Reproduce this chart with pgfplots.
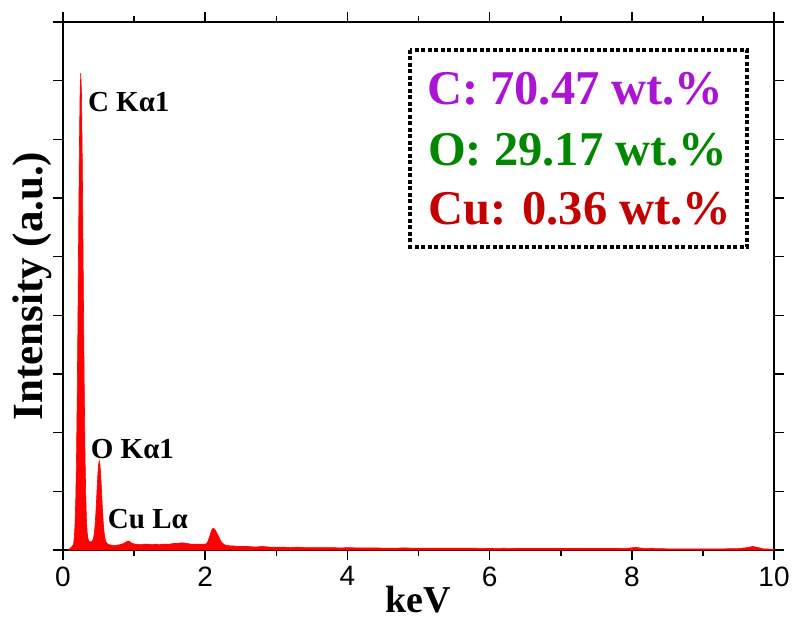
\documentclass[border=0pt]{standalone}
\usepackage{fontspec}
\setmainfont{Liberation Serif}
\newfontfamily\arial{Liberation Sans}
\usepackage{pgfplots}
\pgfplotsset{compat=1.18}
\definecolor{cpurple}{RGB}{170,20,210}
\definecolor{ogreen}{RGB}{0,135,0}
\definecolor{cured}{RGB}{195,0,0}
\begin{document}
\begin{tikzpicture}
\begin{axis}[
  scale only axis,
  width=711pt, height=528pt,
  xmin=0, xmax=10, ymin=0, ymax=9,
  xtick={0,2,4,6,8,10},
  minor x tick num=1,
  ytick={0,1,2,3,4,5,6,7,8,9},
  yticklabels={},
  tick align=outside,
  xtick pos=both, ytick pos=both,
  major tick length=10pt,
  minor tick length=6pt,
  axis line style={line width=1.6pt},
  every tick/.style={line width=1.6pt, black},
  /pgf/number format/assume math mode=true,
  xticklabel style={font=\arial\fontsize{28}{32}\selectfont, yshift=-3pt},
  xlabel={\textbf{keV}},
  ylabel={\textbf{Intensity (a.u.)}},
  xlabel style={font=\fontsize{38}{44}\selectfont, at={(axis description cs:0.5,-0.119)}, anchor=base},
  ylabel style={font=\fontsize{43}{50}\selectfont, at={(axis description cs:-0.0436,0.5)}, anchor=center},
  clip=false,
]
\addplot[draw=red, fill=red, line width=0.6pt] coordinates {
(0.08,0) (0.10,0.03) (0.12,0.05) (0.14,0.08) (0.15,0.11) (0.16,0.23) (0.17,0.46) (0.18,0.88)
(0.19,1.58) (0.20,2.60) (0.21,3.91) (0.22,5.39) (0.23,6.77) (0.24,7.77) (0.25,8.13) (0.26,7.77)
(0.27,6.77) (0.28,5.39) (0.29,3.91) (0.30,2.60) (0.31,1.60) (0.32,0.92) (0.33,0.52) (0.34,0.30)
(0.35,0.20) (0.36,0.16) (0.37,0.14) (0.38,0.14) (0.39,0.14) (0.40,0.14) (0.41,0.15) (0.42,0.17)
(0.43,0.21) (0.44,0.28) (0.45,0.40) (0.46,0.58) (0.47,0.80) (0.48,1.05) (0.49,1.29) (0.50,1.45)
(0.51,1.52) (0.52,1.45) (0.53,1.29) (0.54,1.05) (0.55,0.80) (0.56,0.58) (0.57,0.40) (0.58,0.28)
(0.59,0.20) (0.60,0.15) (0.62,0.11) (0.65,0.09) (0.70,0.08) (0.75,0.08) (0.80,0.09) (0.85,0.11)
(0.88,0.13) (0.91,0.15) (0.93,0.15) (0.95,0.13) (0.98,0.11) (1.02,0.10) (1.10,0.09) (1.15,0.10)
(1.20,0.10) (1.25,0.09) (1.30,0.10) (1.35,0.09) (1.40,0.10) (1.45,0.10) (1.50,0.10) (1.55,0.11)
(1.60,0.11) (1.65,0.12) (1.70,0.12) (1.75,0.11) (1.80,0.10) (1.85,0.10) (1.90,0.10) (1.95,0.10)
(2.00,0.10) (2.02,0.11) (2.04,0.15) (2.06,0.22) (2.08,0.30) (2.10,0.36) (2.12,0.37) (2.14,0.34)
(2.16,0.30) (2.18,0.25) (2.20,0.20) (2.22,0.15) (2.24,0.12) (2.27,0.09) (2.30,0.08) (2.35,0.07)
(2.40,0.07) (2.45,0.06)
(2.50,0.06) (2.60,0.06) (2.70,0.05) (2.80,0.06) (2.90,0.05) (3.00,0.05) (3.10,0.05) (3.20,0.04)
(3.30,0.05) (3.40,0.04) (3.50,0.04) (3.60,0.04) (3.70,0.04) (3.80,0.04) (3.90,0.035) (4.00,0.04)
(4.20,0.035) (4.40,0.035) (4.60,0.03) (4.80,0.035) (5.00,0.03) (5.20,0.03) (5.40,0.03) (5.60,0.03)
(5.80,0.03) (6.00,0.025) (6.20,0.03) (6.40,0.025) (6.60,0.025) (6.80,0.025) (7.00,0.025) (7.20,0.025)
(7.40,0.025) (7.60,0.025) (7.80,0.025) (7.95,0.03) (8.05,0.045) (8.15,0.03) (8.30,0.025) (8.50,0.02)
(8.70,0.02) (8.90,0.02) (9.10,0.02) (9.30,0.02) (9.50,0.025) (9.62,0.04) (9.70,0.06) (9.78,0.04)
(9.85,0.02) (9.95,0.015) (10.0,0.015)
} \closedcycle;
\node[anchor=base west, font=\bfseries\fontsize{29}{34}\selectfont, inner sep=0pt] at (axis cs:0.35,7.47) {C Kα1};
\node[anchor=base west, font=\bfseries\fontsize{29}{34}\selectfont, inner sep=0pt] at (axis cs:0.39,1.56) {O Kα1};
\node[anchor=base west, font=\bfseries\fontsize{29}{34}\selectfont, inner sep=0pt] at (axis cs:0.63,0.36) {Cu Lα};
\end{axis}
\draw[line width=3.5pt, dash pattern=on 4pt off 2.5pt, black] (347pt,500pt) rectangle (684pt,303pt);
\node[anchor=base west, inner sep=0pt, font=\bfseries\fontsize{48.5}{56}\selectfont, text=cpurple] at (364pt,445pt) {C: 70.47 wt.\%};
\node[anchor=base west, inner sep=0pt, font=\bfseries\fontsize{48.5}{56}\selectfont, text=ogreen] at (365pt,384pt) {O: 29.17 wt.\%};
\node[anchor=base west, inner sep=0pt, font=\bfseries\fontsize{48.5}{56}\selectfont, text=cured] at (365pt,325pt) {Cu: 0.36 wt.\%};
\pgfresetboundingbox
\path (-63pt,-75pt) rectangle (733pt,550pt);
\end{tikzpicture}
\end{document}
